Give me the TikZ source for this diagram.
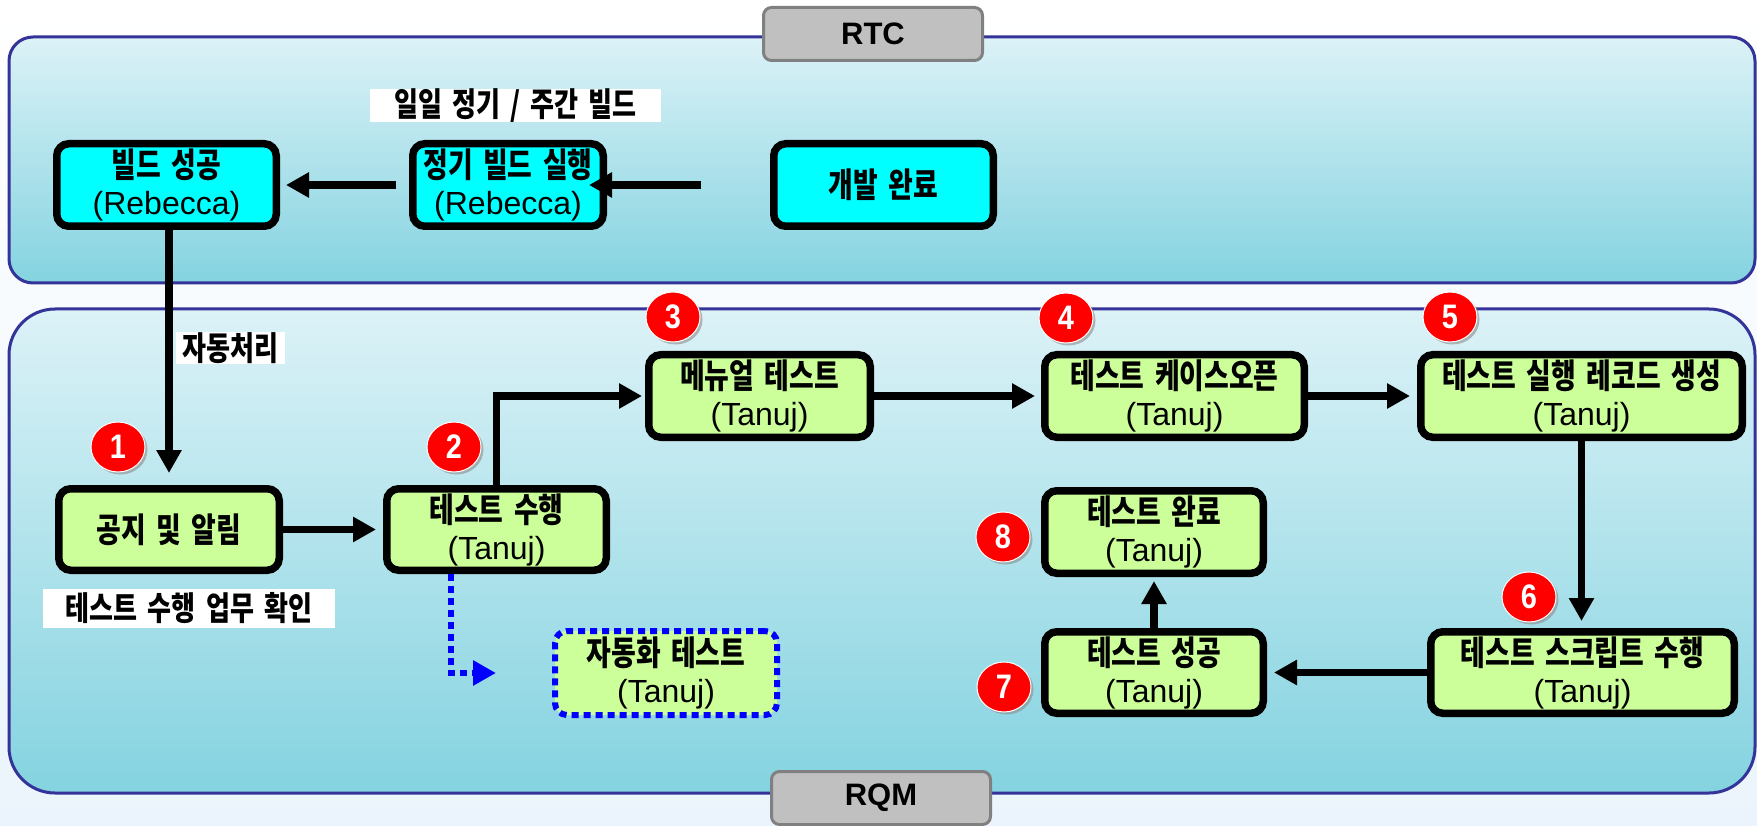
\documentclass[tikz,border=0pt]{standalone}
\usepackage{fontspec}
\setmainfont{Liberation Sans}
\newfontfamily\kr[FakeStretch=0.79,WordSpace=1.7]{Noto Sans CJK KR}
\newfontfamily\narrow[FakeStretch=0.85]{Liberation Sans}
\usetikzlibrary{arrows.meta,calc,shadows,shapes.geometric}
\definecolor{cyanbox}{HTML}{00FFFF}
\definecolor{greenbox}{HTML}{CCFF99}
\definecolor{ptop}{HTML}{DCF2F7}
\definecolor{pbot}{HTML}{84D3E0}
\definecolor{pborder}{HTML}{333399}
\definecolor{tabfill}{HTML}{C0C0C0}
\definecolor{tabborder}{HTML}{808080}
\definecolor{bgbot}{HTML}{EBF4FC}
\definecolor{badgered}{HTML}{FF0000}
\tikzset{
  box/.style={draw=black, line width=7.5pt, rounded corners=12pt, align=center,
    inner sep=0pt, font=\fontsize{34}{37}\selectfont},
  cbox/.style={box, fill=cyanbox},
  gbox/.style={box, fill=greenbox},
  dbox/.style={box, draw=blue, line width=6pt, dash pattern=on 7pt off 5pt, fill=greenbox},
  arr/.style={line width=7.5pt, -{Triangle[length=23pt,width=24pt]}},
  barr/.style={draw=blue, line width=6pt, dash pattern=on 7pt off 5pt,
    -{Triangle[length=23pt,width=24pt,sep=0pt]}},
  tab/.style={draw=tabborder, fill=tabfill, line width=3pt, rounded corners=8pt,
    minimum width=219pt, minimum height=53pt, inner sep=0pt,
    font=\fontsize{31}{31}\selectfont\bfseries},
  lab/.style={fill=white, inner sep=0pt, font=\kr\bfseries\fontsize{33}{33}\selectfont},
  badge/.style={ellipse, fill=badgered, draw=white, line width=1pt,
    minimum width=54pt, minimum height=50pt, inner sep=0pt, text=white,
    font=\narrow\fontsize{34}{34}\selectfont\bfseries,
    drop shadow={shadow xshift=2.5pt, shadow yshift=-2.5pt, fill=black!45, opacity=0.6}},
}
\newcommand{\lat}[1]{{\fontsize{32}{37}\selectfont #1}}
\begin{document}
\begin{tikzpicture}[x=1pt,y=-1pt]
\useasboundingbox (0,0) rectangle (1757,826);
\shade[top color=white, bottom color=bgbot] (0,0) rectangle (1757,826);
% panels
\shade[top color=ptop, bottom color=pbot, rounded corners=24pt] (9,37) rectangle (1755,283);
\draw[pborder, line width=3pt, rounded corners=24pt] (9,37) rectangle (1755,283);
\shade[top color=ptop, bottom color=pbot, rounded corners=46pt] (9,309) rectangle (1755,793);
\draw[pborder, line width=3pt, rounded corners=46pt] (9,309) rectangle (1755,793);
% tabs
\node[tab] (rtc) at (873,34) {RTC};
\node[tab] (rqm) at (881,798) {RQM};
% labels
\node[lab, minimum width=291pt, minimum height=31pt] (l1) at (515.5,105.5) {일일 정기 / 주간 빌드};
\node[lab, minimum width=109pt, minimum height=32pt] (l2) at (230.5,348) {자동처리};
\node[lab, minimum width=292pt, minimum height=39pt] (l3) at (189,608.5) {테스트 수행 업무 확인};
% boxes
\node[cbox, minimum width=219.5pt, minimum height=82.5pt] (bs) at (166.5,185) {{\kr\bfseries 빌드 성공}\\\lat{(Rebecca)}};
\node[cbox, minimum width=190.5pt, minimum height=82.5pt] (jb) at (508,185) {{\kr\bfseries 정기 빌드 실행}\\\lat{(Rebecca)}};
\node[cbox, minimum width=219.5pt, minimum height=82.5pt] (gb) at (883.5,185) {\kr\bfseries 개발 완료};
\node[gbox, minimum width=220.5pt, minimum height=81.5pt] (gj) at (169,529.5) {\kr\bfseries 공지 및 알림};
\node[gbox, minimum width=219.5pt, minimum height=81.5pt] (ts) at (496.5,529.5) {{\kr\bfseries 테스트 수행}\\\lat{(Tanuj)}};
\node[gbox, minimum width=221.5pt, minimum height=82.5pt] (mt) at (759.5,396) {{\kr\bfseries 메뉴얼 테스트}\\\lat{(Tanuj)}};
\node[dbox, minimum width=222pt, minimum height=84pt] (at) at (666,673) {{\kr\bfseries 자동화 테스트}\\\lat{(Tanuj)}};
\node[gbox, minimum width=259.5pt, minimum height=82.5pt] (kc) at (1174.5,396) {{\kr\bfseries 테스트 케이스오픈}\\\lat{(Tanuj)}};
\node[gbox, minimum width=321.5pt, minimum height=82.5pt] (rc) at (1581.5,396) {{\kr\bfseries 테스트 실행 레코드 생성}\\\lat{(Tanuj)}};
\node[gbox, minimum width=218.5pt, minimum height=82.5pt] (wr) at (1154,532) {{\kr\bfseries 테스트 완료}\\\lat{(Tanuj)}};
\node[gbox, minimum width=218.5pt, minimum height=81.5pt] (sg) at (1154,672.5) {{\kr\bfseries 테스트 성공}\\\lat{(Tanuj)}};
\node[gbox, minimum width=303.5pt, minimum height=81.5pt] (sc) at (1582.5,672.5) {{\kr\bfseries 테스트 스크립트 수행}\\\lat{(Tanuj)}};
% connectors
\coordinate (gbx) at (701,185);
\draw[arr, shorten <=12.75pt, shorten >=6pt] (jb.west) -- (bs.east);
\draw[arr, shorten >=-18pt] (gbx) -- (jb.east);
\draw[arr, shorten >=12pt] (bs.south -| gj.north) -- (gj.north);
\draw[arr, shorten >=7pt] (gj.east) -- (ts.west);
\draw[arr, shorten >=3pt] (ts.north) |- (mt.west);
\draw[barr, shorten >=56pt] ($(ts.south)+(-46,0)$) |- (at.west);
\draw[arr, shorten >=6pt] (mt.east) -- (kc.west);
\draw[arr, shorten >=7pt] (kc.east) -- (rc.west);
\draw[arr, shorten >=7pt] (rc.south) -- (rc.south |- sc.north);
\draw[arr, shorten >=7pt] (sc.west) -- (sg.east);
\draw[arr, shorten >=4pt] (sg.north) -- (wr.south);
% badges
\node[badge] (b1) at (118,447) {1};
\node[badge] (b2) at (454,447) {2};
\node[badge] (b3) at (673,317) {3};
\node[badge] (b4) at (1066,318) {4};
\node[badge] (b5) at (1450,317) {5};
\node[badge] (b6) at (1529,597) {6};
\node[badge] (b7) at (1004,687) {7};
\node[badge] (b8) at (1003,537) {8};
\end{tikzpicture}
\end{document}
